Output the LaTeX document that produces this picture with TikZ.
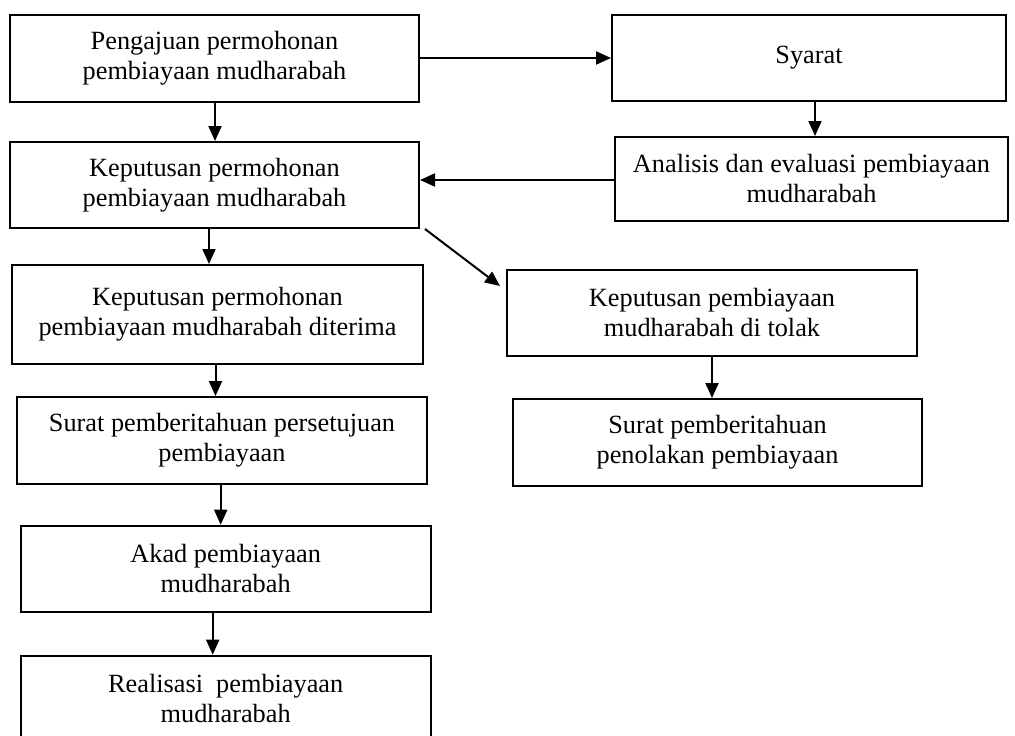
\documentclass[tikz,border=0pt]{standalone}
\usepackage{fontspec}
\setmainfont{Liberation Serif}
\usetikzlibrary{arrows.meta}

\begin{document}
\begin{tikzpicture}[x=1pt,y=-1pt]
\tikzstyle{box}=[draw, line width=2pt, align=center, inner sep=2pt, minimum height=86pt, font=\fontsize{26.3}{30}\selectfont]
\tikzstyle{arr}=[line width=2pt, -{Triangle[length=15pt,width=13pt]}]
\useasboundingbox (0,0) rectangle (1015,736);

\node[box, minimum width=409pt, minimum height=87pt] (ajuan) at (214.5,58) {Pengajuan permohonan\\pembiayaan mudharabah};
\node[box, minimum width=394pt] (syarat) at (809,58) {Syarat};
\node[box, minimum width=393pt, minimum height=84pt] (analisis) at (811.5,179) {Analisis dan evaluasi pembiayaan\\mudharabah};
\node[box, minimum width=409pt] (putus) at (214.5,185) {Keputusan permohonan\\pembiayaan mudharabah};
\node[box, minimum width=411pt, minimum height=99pt] (terima) at (217.5,314.5) {Keputusan permohonan\\pembiayaan mudharabah diterima};
\node[box, minimum width=410pt] (tolak) at (712,313) {Keputusan pembiayaan\\mudharabah di tolak};
\node[box, minimum width=410pt, minimum height=87pt] (setuju) at (222,440.5) {Surat pemberitahuan persetujuan\\pembiayaan};
\node[box, minimum width=409pt, minimum height=87pt] (penolakan) at (717.5,442.5) {Surat pemberitahuan\\penolakan pembiayaan};
\node[box, minimum width=410pt] (akad) at (225.7,568.7) {Akad pembiayaan\\mudharabah};
\node[box, minimum width=410pt] (realisasi) at (225.7,698.7) {Realisasi\ \ pembiayaan\\mudharabah};

\draw[arr] (ajuan) -- (syarat);
\draw[arr] (syarat.south -| 815,0) -- (analisis.north -| 815,0);
\draw[arr] (analisis.west |- 0,180) -- (putus.east |- 0,180);
\draw[arr] (ajuan.south -| 215,0) -- (putus.north -| 215,0);
\draw[arr] (putus.south -| 209,0) -- (terima.north -| 209,0);
\draw[arr] ([xshift=5pt]putus.south east) -- ([xshift=-6pt,yshift=-17pt]tolak.north west);
\draw[arr] (tolak.south -| 712,0) -- (penolakan.north -| 712,0);
\draw[arr] (terima.south -| 215.5,0) -- (setuju.north -| 215.5,0);
\draw[arr] (setuju.south -| 220.7,0) -- (akad.north -| 220.7,0);
\draw[arr] (akad.south -| 212.7,0) -- (realisasi.north -| 212.7,0);

\end{tikzpicture}
\end{document}
